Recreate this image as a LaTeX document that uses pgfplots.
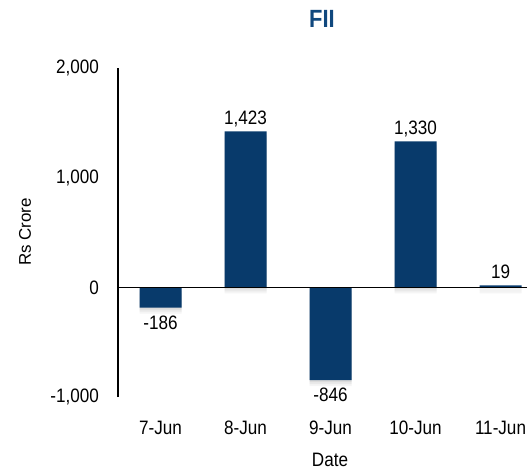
\documentclass[border=0pt]{standalone}
\usepackage{pgfplots}
\pgfplotsset{compat=1.18}
\usepackage{fontspec}
\setmainfont{Liberation Sans}
\newfontfamily\narrowfont{Liberation Sans}[FakeStretch=0.88]

\definecolor{barblue}{RGB}{8,58,107}
\definecolor{titleblue}{RGB}{16,72,126}

\begin{document}
\begin{tikzpicture}[x=1bp,y=1bp]
% page frame; the last category runs off the right edge
\useasboundingbox (0,0) rectangle (527,-470);

\begin{axis}[
  at={(118bp,-397bp)}, anchor=south west,
  scale only axis,
  width=425bp, height=329bp,
  xmin=-0.5, xmax=4.5,
  ymin=-1000, ymax=2000,
  axis x line*=bottom,
  axis y line*=left,
  x axis line style={draw=none},
  y axis line style={line width=1.6bp},
  xtick={0,1,2,3,4},
  xticklabels={7-Jun,8-Jun,9-Jun,10-Jun,11-Jun},
  ytick={-1000,0,1000,2000},
  yticklabels={{-1,000},{0},{1,000},{2,000}},
  major tick length=0pt,
  tick style={draw=none},
  /pgf/number format/assume math mode=true,
  xticklabel style={font=\narrowfont\fontsize{19.5}{22}\selectfont, inner sep=0pt, anchor=base, yshift=-37bp},
  yticklabel style={font=\narrowfont\fontsize{19.5}{22}\selectfont, inner sep=0pt, anchor=east, xshift=-19bp},
  ybar, bar width=42bp, bar shift=0pt,
  clip=false,
  point meta=explicit symbolic,
  nodes near coords,
  every node near coord/.append style={font=\narrowfont\fontsize{19.5}{22}\selectfont, inner sep=0pt, text=black},
  barstyle/.style={
    fill=barblue, draw=none,
    preaction={fill=black, opacity=0.06, transform canvas={yshift=-2bp}},
    preaction={fill=black, opacity=0.05, transform canvas={yshift=-4bp}},
    preaction={fill=black, opacity=0.04, transform canvas={yshift=-6bp}},
  },
]
% net inflows
\addplot[barstyle, nodes near coords style={anchor=base, yshift=7bp}]
  coordinates {(1,1423) [{1,423}] (3,1330) [{1,330}] (4,19) [{19}]};
% net outflows
\addplot[barstyle, nodes near coords style={anchor=north, yshift=-8bp}]
  coordinates {(0,-186) [{-186}] (2,-846) [{-846}]};
% zero line
\draw[black, line width=1.3bp] (axis cs:-0.5,0) -- (axis cs:4.5,0);
\end{axis}

\node[font=\narrowfont\bfseries\fontsize{25}{28}\selectfont, text=titleblue] at (322,-19) {FII};
\node[font=\fontsize{17}{20}\selectfont, rotate=90] at (25,-232) {Rs Crore};
\node[font=\narrowfont\fontsize{19.5}{22}\selectfont] at (330,-460) {Date};
\end{tikzpicture}
\end{document}
